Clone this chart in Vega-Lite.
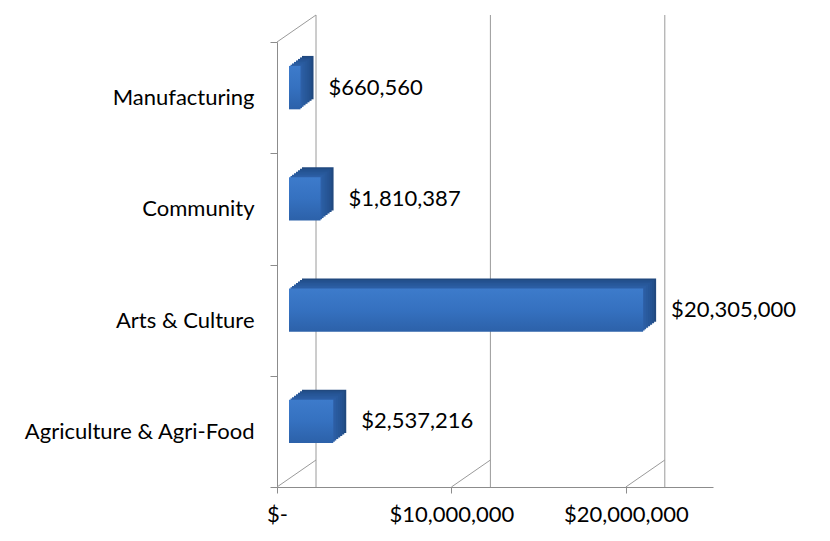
{
  "$schema": "https://vega.github.io/schema/vega-lite/v6.json",
  "width": 436,
  "height": 445,
  "autosize": {"type": "none"},
  "padding": {"left": 277, "top": 42, "right": 117, "bottom": 54},
  "background": "white",
  "config": {
    "view": {"stroke": null},
    "font": "Lato",
    "axis": {"labelFont": "Lato", "labelColor": "#000000", "domainColor": "#8c8c8c", "tickColor": "#8c8c8c"}
  },
  "datasets": {
    "bars": [
      {"sector": "Manufacturing", "amount": 660560, "label": "$660,560"},
      {"sector": "Community", "amount": 1810387, "label": "$1,810,387"},
      {"sector": "Arts & Culture", "amount": 20305000, "label": "$20,305,000"},
      {"sector": "Agriculture & Agri-Food", "amount": 2537216, "label": "$2,537,216"}
    ],
    "ticks": [{"v": 0}, {"v": 10000000}, {"v": 20000000}]
  },
  "layer": [
    {
      "data": {"name": "ticks"},
      "mark": {"type": "rule", "color": "#9a9a9a", "strokeWidth": 1, "xOffset": 39, "x2Offset": 39, "yOffset": -27, "y2Offset": -27},
      "encoding": {
        "x": {"field": "v", "type": "quantitative", "scale": {"domain": [0, 25000000], "nice": false}}
      }
    },
    {
      "data": {"name": "ticks"},
      "mark": {"type": "rule", "color": "#9a9a9a", "strokeWidth": 1, "xOffset": 0, "x2Offset": 39, "yOffset": 0, "y2Offset": -27},
      "encoding": {
        "x": {"field": "v", "type": "quantitative"},
        "x2": {"field": "v"},
        "y": {"value": "height"},
        "y2": {"value": "height"}
      }
    },
    {
      "data": {"values": [{"v": 0}]},
      "mark": {"type": "rule", "color": "#9a9a9a", "strokeWidth": 1, "xOffset": 0, "x2Offset": 39, "yOffset": 0, "y2Offset": -27},
      "encoding": {
        "x": {"field": "v", "type": "quantitative"},
        "x2": {"field": "v"},
        "y": {"value": 0},
        "y2": {"value": 0}
      }
    },
    {
      "data": {"name": "bars"},
      "encoding": {
        "x": {"field": "amount", "type": "quantitative"},
        "y": {"field": "sector", "type": "nominal", "sort": null}
      },
      "layer": [
        {"mark": {"type": "bar", "color": "#21497f", "height": {"band": 0.39}, "xOffset": 25, "x2Offset": 25, "yOffset": -20, "y2Offset": -20}},
        {"mark": {"type": "bar", "color": "#23508c", "height": {"band": 0.39}, "xOffset": 23, "x2Offset": 23, "yOffset": -18.5, "y2Offset": -18.5}},
        {"mark": {"type": "bar", "color": "#255393", "height": {"band": 0.39}, "xOffset": 21, "x2Offset": 21, "yOffset": -17, "y2Offset": -17}},
        {"mark": {"type": "bar", "color": "#275798", "height": {"band": 0.39}, "xOffset": 19, "x2Offset": 19, "yOffset": -15.5, "y2Offset": -15.5}},
        {"mark": {"type": "bar", "color": "#295a9d", "height": {"band": 0.39}, "xOffset": 17, "x2Offset": 17, "yOffset": -14, "y2Offset": -14}},
        {"mark": {"type": "bar", "color": "#2b5da2", "height": {"band": 0.39}, "xOffset": 15, "x2Offset": 15, "yOffset": -12.5, "y2Offset": -12.5}},
        {"mark": {"type": "bar", "color": "#2d5fa6", "height": {"band": 0.39}, "xOffset": 13.5, "x2Offset": 13.5, "yOffset": -11.2, "y2Offset": -11.2}},
        {
          "mark": {
            "type": "bar",
            "color": {"gradient": "linear", "x1": 0, "y1": 0, "x2": 0, "y2": 1, "stops": [{"offset": 0, "color": "#3d7bcb"}, {"offset": 0.5, "color": "#3571c0"}, {"offset": 1, "color": "#2c61a9"}]},
            "height": {"band": 0.39}, "xOffset": 12, "x2Offset": 12, "yOffset": -10, "y2Offset": -10
          },
          "encoding": {
            "x": {
              "field": "amount", "type": "quantitative",
              "axis": {
                "values": [0, 10000000, 20000000],
                "grid": false,
                "title": null,
                "labelFontSize": 22,
                "labelPadding": 11,
                "labelFlush": false,
                "tickSize": 6,
                "labelExpr": "datum.value == 0 ? '$-\u00a0' : '$' + format(datum.value, ',')"
              }
            },
            "y": {
              "field": "sector", "type": "nominal", "sort": null,
              "scale": {"paddingInner": 0, "paddingOuter": 0},
              "axis": {
                "title": null,
                "labelFontSize": 22,
                "labelPadding": 16,
                "tickSize": 7,
                "tickBand": "extent",
                "labelLimit": 300
              }
            }
          }
        },
        {
          "mark": {"type": "text", "align": "left", "baseline": "middle", "fontSize": 22, "color": "#000000", "dx": 40, "dy": -10},
          "encoding": {"text": {"field": "label"}}
        }
      ]
    }
  ]
}
